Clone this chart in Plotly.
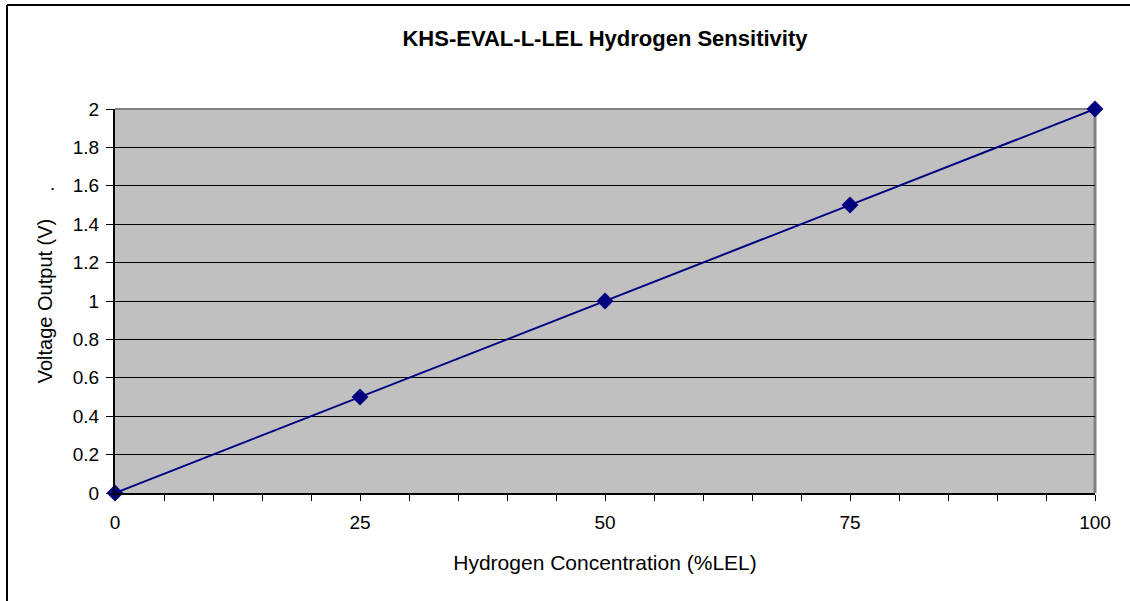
import plotly.graph_objects as go

concentration = [0, 25, 50, 75, 100]
voltage = [0, 0.5, 1.0, 1.5, 2.0]
x_ticks = [0, 25, 50, 75, 100]
y_ticks = [0, 0.2, 0.4, 0.6, 0.8, 1.0, 1.2, 1.4, 1.6, 1.8, 2.0]
y_tick_text = ["0", "0.2", "0.4", "0.6", "0.8", "1", "1.2", "1.4", "1.6", "1.8", "2"]

W, H = 1130, 601
L, R, T, B = 115, 35, 109, 108
pw, ph = W - L - R, H - T - B

def px(x):
    return (x - L) / pw

def py(y):
    return (H - B - y) / ph

font = "Liberation Sans, Arial, sans-serif"

fig = go.Figure()
fig.add_trace(go.Scatter(
    x=concentration, y=voltage, mode="lines+markers",
    line=dict(color="#000080", width=2),
    marker=dict(symbol="diamond", size=13, color="#000080"),
    showlegend=False, cliponaxis=False,
))

fig.update_layout(
    width=W, height=H,
    margin=dict(l=L, r=R, t=T, b=B),
    paper_bgcolor="white",
    plot_bgcolor="#C0C0C0",
    font=dict(family=font, size=19, color="black"),
    title=dict(text="<b>KHS-EVAL-L-LEL Hydrogen Sensitivity</b>", x=0.5, xanchor="center",
               y=1 - 38 / H, yanchor="middle", xref="paper",
               font=dict(family=font, size=22, color="black")),
    xaxis=dict(range=[0, 100], tickvals=x_ticks, ticks="outside", ticklen=6,
               tickcolor="black", tickwidth=1, showgrid=False, zeroline=False,
               showline=True, linecolor="black", linewidth=2,
               ticklabelstandoff=5,
               tickfont=dict(size=19),
               minor=dict(dtick=5, tick0=0, ticks="outside", ticklen=6, tickcolor="black", showgrid=False),
               title=dict(text="Hydrogen Concentration (%LEL)", standoff=24,
                          font=dict(family=font, size=21))),
    yaxis=dict(range=[0, 2], tickvals=y_ticks, ticktext=y_tick_text, ticks="outside",
               ticklen=7, tickcolor="black", showgrid=True, gridcolor="black", gridwidth=1,
               zeroline=False, showline=True, linecolor="black", linewidth=2,
               ticklabelstandoff=3,
               tickfont=dict(size=19),
               title=dict(text="Voltage Output (V)", standoff=15,
                          font=dict(family=font, size=20))),
    shapes=[
        dict(type="line", xref="paper", yref="paper", x0=0, x1=1, y0=1, y1=1,
             line=dict(color="#808080", width=2), layer="below"),
        dict(type="line", xref="paper", yref="paper", x0=1, x1=1, y0=0, y1=1,
             line=dict(color="#808080", width=3), layer="below"),
        # outer chart border (top and left edges visible in the reference)
        dict(type="line", xref="paper", yref="paper", x0=px(7), x1=px(W),
             y0=py(5), y1=py(5), line=dict(color="black", width=2)),
        dict(type="line", xref="paper", yref="paper", x0=px(7), x1=px(7),
             y0=py(5), y1=py(H), line=dict(color="black", width=2)),
    ],
    annotations=[
        dict(text=".", xref="paper", yref="paper", x=px(48), y=py(171),
             showarrow=False, font=dict(family=font, size=19)),
    ],
)

fig.write_html("out.html", config={"displayModeBar": False},
               post_script="document.body.style.margin='0px';document.body.style.overflow='hidden';")
